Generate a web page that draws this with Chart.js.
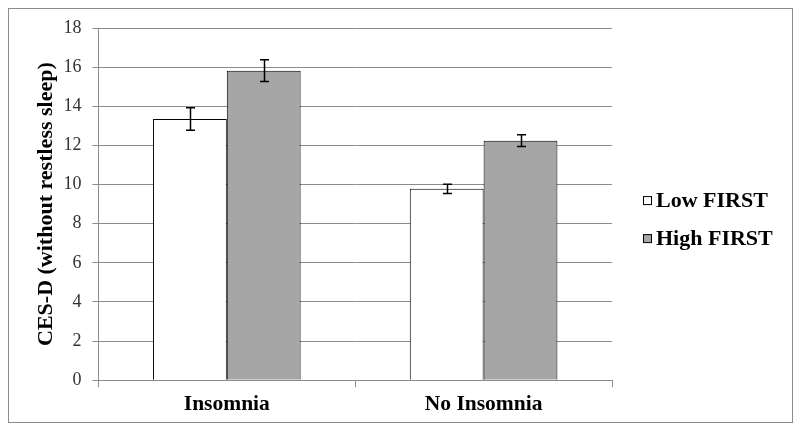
<html>
<head>
<script src="https://cdn.jsdelivr.net/npm/chart.js@4.4.0/dist/chart.umd.min.js"></script>
<style>
  body { margin: 0; background: #fff; }
  #wrap { width: 800px; height: 437px; }
</style>
</head>
<body>
<div id="wrap"><canvas id="chart" width="800" height="437"></canvas></div>
<script>
// values
const categories = ['Insomnia', 'No Insomnia'];
const lowFirst = [13.35, 9.78];
const highFirst = [15.82, 12.24];
const lowErr = [0.57, 0.24];
const highErr = [0.56, 0.30];
const yTicks = [0, 2, 4, 6, 8, 10, 12, 14, 16, 18];

const serif = "'Liberation Serif', 'Times New Roman', serif";

// box around the whole figure
const frame = {
    id: 'frame',
    beforeDraw(chart) {
        const ctx = chart.ctx;
        ctx.save();
        ctx.fillStyle = '#fff';
        ctx.fillRect(0, 0, chart.width, chart.height);
        ctx.strokeStyle = '#8c8c8c';
        ctx.lineWidth = 1;
        ctx.strokeRect(8.5, 8.5, 784, 414);
        ctx.restore();
    }
};

// error bars drawn from the bar elements and the y scale
const errorBars = {
    id: 'errorBars',
    afterDatasetsDraw(chart) {
        const ctx = chart.ctx;
        const y = chart.scales.y;
        const errs = [lowErr, highErr];
        ctx.save();
        ctx.strokeStyle = '#000';
        ctx.lineWidth = 1.5;
        chart.data.datasets.forEach(function (ds, i) {
            chart.getDatasetMeta(i).data.forEach(function (bar, j) {
                const v = ds.data[j];
                const top = y.getPixelForValue(v + errs[i][j]);
                const bot = y.getPixelForValue(v - errs[i][j]);
                const x = Math.round(bar.x) + 0.5;
                ctx.beginPath();
                ctx.moveTo(x, top); ctx.lineTo(x, bot);
                ctx.moveTo(x - 4.5, top); ctx.lineTo(x + 4.5, top);
                ctx.moveTo(x - 4.5, bot); ctx.lineTo(x + 4.5, bot);
                ctx.stroke();
            });
        });
        ctx.restore();
    }
};

// legend to the right of the plot, small square + bold label
const sideLegend = {
    id: 'sideLegend',
    afterDraw(chart) {
        const ctx = chart.ctx;
        const area = chart.chartArea;
        const x = area.right + 31;
        const first = (area.top + area.bottom) / 2 - 4;
        ctx.save();
        ctx.font = 'bold 22px ' + serif;
        ctx.textBaseline = 'middle';
        chart.data.datasets.forEach(function (ds, i) {
            const cy = first + i * 38;
            ctx.fillStyle = ds.backgroundColor;
            ctx.fillRect(x, cy - 4, 8, 8);
            ctx.strokeStyle = '#000';
            ctx.lineWidth = 1;
            ctx.strokeRect(x + 0.5, cy - 3.5, 8, 8);
            ctx.fillStyle = '#000';
            ctx.fillText(ds.label, x + 13, cy + 1);
        });
        ctx.restore();
    }
};

new Chart(document.getElementById('chart'), {
    type: 'bar',
    data: {
        labels: categories,
        datasets: [{
            label: 'Low FIRST',
            data: lowFirst,
            backgroundColor: '#ffffff',
            borderColor: '#000',
            borderWidth: 1
        }, {
            label: 'High FIRST',
            data: highFirst,
            backgroundColor: '#a6a6a6',
            borderColor: '#000',
            borderWidth: 1
        }]
    },
    options: {
        responsive: false,
        animation: false,
        datasets: { bar: { barPercentage: 1, categoryPercentage: 0.575 } },
        layout: { padding: { top: 28, left: 33, right: 188, bottom: 16 } },
        plugins: {
            tooltip: { enabled: false },
            legend: { display: false }
        },
        scales: {
            x: {
                grid: { display: true, drawOnChartArea: false, tickLength: 7, color: '#8c8c8c' },
                border: { color: '#8c8c8c' },
                ticks: {
                    color: '#000',
                    padding: 4,
                    font: { family: serif, size: 21.5, weight: 'bold' }
                }
            },
            y: {
                min: 0,
                max: 18,
                afterBuildTicks(scale) { scale.ticks = yTicks.map(v => ({ value: v })); },
                afterFit(scale) { scale.width -= 7; },
                grid: { color: '#8c8c8c', tickLength: 6 },
                border: { color: '#8c8c8c' },
                ticks: {
                    color: '#333',
                    padding: 11,
                    font: { family: serif, size: 18 }
                },
                title: {
                    display: true,
                    text: 'CES-D (without restless sleep)',
                    color: '#000',
                    padding: { top: 0, bottom: 0 },
                    font: { family: serif, size: 22, weight: 'bold' }
                }
            }
        }
    },
    plugins: [frame, errorBars, sideLegend]
});
</script>
</body>
</html>
